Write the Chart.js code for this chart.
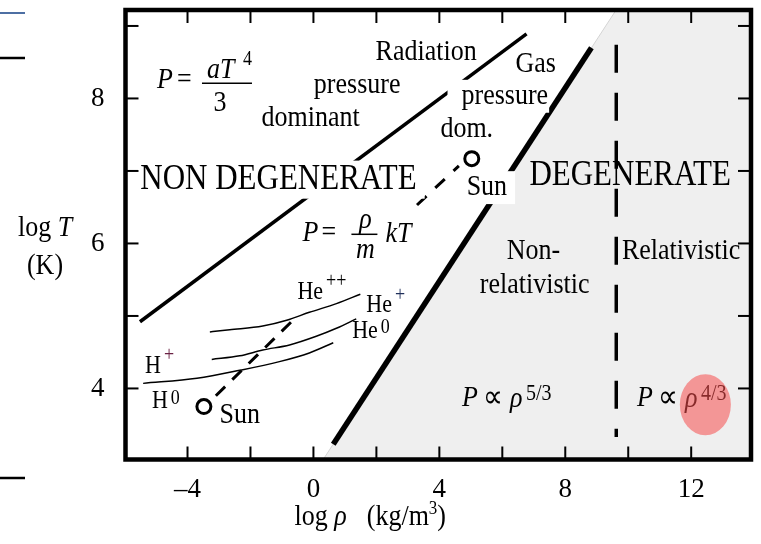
<!DOCTYPE html>
<html>
<head>
<meta charset="utf-8">
<script src="https://cdn.jsdelivr.net/npm/chart.js@4"></script>
<style>
  html, body { margin: 0; padding: 0; background: #fff; }
</style>
</head>
<body>
<canvas id="grafico" width="761" height="544"></canvas>
<script>
// limites dos eixos: log rho (kg/m3) e log T (K)
const rhoMin = -5.97, rhoMax = 13.9;
const tMin = 3.02, tMax = 9.22;

// regiao degenerada (cinza): borda da fronteira e canto superior direito
const cinzaRho = [-0.5, 10.2, 16];
const cinzaT   = [2.48, 9.61, 9.61];

// linha grossa degenerado / nao degenerado
const degenRho = [0.63, 8.83];
const degenT   = [3.23, 8.70];

// linha radiacao / gas
const radRho = [-5.51, 6.77];
const radT   = [4.92, 8.89];

// limite relativistico (tracejado vertical)
const relRho = [9.62, 9.62];
const relT   = [8.74, 3.33];

// caminho do Sol, dois trechos visiveis
const solRho1 = [-3.10, -0.51];
const solT1   = [3.90, 5.00];
const solRho2 = [3.29, 4.62];
const solT2   = [6.53, 7.07];

// superficie e centro do Sol
const solRho = [-3.48, 5.03];
const solT   = [3.75, 7.17];

// curvas de ionizacao
const hRho   = [-5.41, -3.70, -2.34, -1.08, -0.13, 0.63];
const hT     = [4.07, 4.14, 4.25, 4.37, 4.49, 4.63];
const he1Rho = [-3.23, -2.34, -1.61, -0.76, 0.09, 0.73, 1.36];
const he1T   = [4.40, 4.45, 4.53, 4.60, 4.72, 4.83, 4.96];
const he2Rho = [-3.29, -2.66, -1.61, -0.85, -0.13, 0.73, 1.49];
const he2T   = [4.78, 4.81, 4.86, 4.94, 5.05, 5.17, 5.30];

// textos simples (posicao em unidades dos eixos)
const rotulos = [
  { t: 'Radiation', x: 3.58, y: 8.64 },
  { t: 'pressure', x: 1.39, y: 8.18 },
  { t: 'dominant', x: -0.09, y: 7.73 },
  { t: 'Gas', x: 7.06, y: 8.48 },
  { t: 'pressure', x: 6.08, y: 8.03, fundo: true, folgaEsq: 14, folgaDir: 1 },
  { t: 'dom.', x: 4.87, y: 7.58 },
  { t: 'NON DEGENERATE', x: -1.11, y: 6.88, tam: 31, fundo: true },
  { t: 'DEGENERATE', x: 10.06, y: 6.94, tam: 31 },
  { t: 'Sun', x: 5.51, y: 6.77, fundo: true },
  { t: 'Sun', x: -2.34, y: 3.63 },
  { t: 'Non-', x: 6.99, y: 5.89 },
  { t: 'relativistic', x: 7.03, y: 5.42 },
  { t: 'Relativistic', x: 11.68, y: 5.89 }
];

const SERIF = '"Liberation Serif", "Times New Roman", serif';
const ESTICA = 1.15;

function pares(xs, ys) {
  return xs.map((x, i) => ({ x: x, y: ys[i] }));
}

function escreve(ctx, t, x, y, tam, estilo, alinh, cor) {
  ctx.save();
  ctx.font = (estilo || '') + ' ' + tam + 'px ' + SERIF;
  ctx.textAlign = alinh || 'center';
  ctx.textBaseline = 'middle';
  ctx.fillStyle = cor || '#000';
  const w = ctx.measureText(t).width;
  ctx.translate(x, y);
  ctx.scale(1, ESTICA);
  ctx.fillText(t, 0, 0);
  ctx.restore();
  return w;
}

function traco(ctx, x1, y1, x2, y2, lw, cor) {
  ctx.save();
  ctx.strokeStyle = cor || '#000';
  ctx.lineWidth = lw;
  ctx.beginPath();
  ctx.moveTo(x1, y1);
  ctx.lineTo(x2, y2);
  ctx.stroke();
  ctx.restore();
}

const desenhos = {
  id: 'desenhos',
  afterDatasetsDraw(chart) {
    const ctx = chart.ctx;
    const sx = chart.scales.x, sy = chart.scales.y;
    const X = v => sx.getPixelForValue(v);
    const Y = v => sy.getPixelForValue(v);

    // rotulos simples
    rotulos.forEach(r => {
      const tam = r.tam || 26;
      const px = X(r.x), py = Y(r.y);
      if (r.fundo) {
        ctx.font = tam + 'px ' + SERIF;
        const w = ctx.measureText(r.t).width;
        const h = tam * ESTICA * 0.9;
        const esq = r.folgaEsq || 5;
        const dir = r.folgaDir !== undefined ? r.folgaDir : 8;
        ctx.fillStyle = '#fff';
        ctx.fillRect(px - w / 2 - esq, py - h / 2 - 3, w + esq + dir, h + 6);
      }
      escreve(ctx, r.t, px, py, tam);
    });

    // P = aT^4 / 3
    let ax = X(-4.97), ay = Y(8.25);
    escreve(ctx, 'P', ax, ay, 26, 'italic', 'left');
    escreve(ctx, '=', ax + 20, ay, 26, '', 'left');
    traco(ctx, ax + 45, ay + 3, ax + 95, ay + 3, 1.5);
    escreve(ctx, 'aT', ax + 50, ay - 10, 26, 'italic', 'left');
    escreve(ctx, '4', ax + 86, ay - 21, 18, '', 'left');
    escreve(ctx, '3', ax + 63, ay + 23, 26, '', 'center');

    // P = rho/m kT
    ax = X(-0.35); ay = Y(6.14);
    escreve(ctx, 'P', ax, ay, 26, 'italic', 'left');
    escreve(ctx, '=', ax + 19, ay, 26, '', 'left');
    traco(ctx, ax + 49, ay + 1, ax + 75, ay + 1, 1.5);
    escreve(ctx, '\u03C1', ax + 63, ay - 13, 26, 'italic', 'center');
    escreve(ctx, 'm', ax + 63, ay + 17, 26, 'italic', 'center');
    escreve(ctx, 'kT', ax + 83, ay + 1, 26, 'italic', 'left');

    // P ~ rho^(5/3) e P ~ rho^(4/3)
    [[4.72, '5/3'], [10.28, '4/3']].forEach(p => {
      const bx = X(p[0]), by = Y(3.86);
      escreve(ctx, 'P', bx, by, 26, 'italic', 'left');
      escreve(ctx, '\u221D', bx + 21, by, 28, '', 'left');
      escreve(ctx, '\u03C1', bx + 48, by + 1, 26, 'italic', 'left');
      escreve(ctx, p[1], bx + 64, by - 5, 20, '', 'left');
    });

    // ions
    const ion = (base, sup, x, y, dy, corSup) => {
      const px = X(x), py = Y(y);
      const w = escreve(ctx, base, px, py, 22, '', 'left');
      escreve(ctx, sup, px + w + 3, py + dy, 18, '', 'left', corSup);
    };
    ion('He', '++', -0.51, 5.33, -10);
    ion('He', '+', 1.68, 5.15, -10, '#1f2f5a');
    ion('He', '0', 1.23, 4.79, -4);
    ion('H', '+', -5.35, 4.31, -10, '#6a2244');
    ion('H', '0', -5.13, 3.82, -3);

    // destaque vermelho
    ctx.save();
    ctx.fillStyle = 'rgba(246, 77, 77, 0.55)';
    ctx.beginPath();
    ctx.ellipse(X(12.45), Y(3.775), 25.5, 30.5, 0, 0, Math.PI * 2);
    ctx.fill();
    ctx.restore();

    // moldura e marcas internas
    const a = chart.chartArea;
    ctx.save();
    ctx.strokeStyle = '#000';
    ctx.lineWidth = 4.5;
    ctx.strokeRect(a.left, a.top, a.right - a.left, a.bottom - a.top);
    ctx.restore();
    sx.ticks.forEach(t => {
      const p = X(t.value);
      traco(ctx, p, a.bottom, p, a.bottom - 13, 2);
      traco(ctx, p, a.top, p, a.top + 13, 2);
    });
    sy.ticks.forEach(t => {
      const p = Y(t.value);
      traco(ctx, a.left, p, a.left + 13, p, 2);
      traco(ctx, a.right, p, a.right - 13, p, 2);
    });

    // titulos dos eixos
    const w1 = escreve(ctx, 'log ', 18, Y(6.21), 26, '', 'left');
    escreve(ctx, 'T', 18 + w1, Y(6.21), 26, 'italic', 'left');
    escreve(ctx, '(K)', 45, Y(5.69), 26, '', 'center');
    let tx = X(-0.6);
    const ty = a.bottom + 58;
    tx += escreve(ctx, 'log ', tx, ty, 26, '', 'left');
    tx += escreve(ctx, '\u03C1', tx, ty, 26, 'italic', 'left');
    tx += 20;
    tx += escreve(ctx, '(kg/m', tx, ty, 26, '', 'left');
    tx += escreve(ctx, '3', tx, ty - 9, 17, '', 'left');
    escreve(ctx, ')', tx, ty, 26, '', 'left');

    // marcas soltas na borda esquerda
    traco(ctx, 0, 13, 25, 13, 2, '#4d6fa3');
    traco(ctx, 0, 58, 25, 58, 2.5);
    traco(ctx, 0, 478, 25, 478, 2.5);
  }
};

const linha = (xs, ys, extra) => Object.assign({
  data: pares(xs, ys),
  showLine: true,
  borderColor: '#000',
  pointRadius: 0,
  fill: false
}, extra);

const grafico = new Chart(document.getElementById('grafico'), {
  type: 'scatter',
  data: {
    datasets: [
      linha(solRho, solT, { showLine: false, pointRadius: 7, pointBorderWidth: 3,
        pointBorderColor: '#000', pointBackgroundColor: '#fff', order: 0 }),
      linha(degenRho, degenT, { borderWidth: 5.5, order: 1 }),
      linha(radRho, radT, { borderWidth: 3.5, order: 1 }),
      linha(relRho, relT, { borderWidth: 3.5, borderDash: [28, 20], order: 1 }),
      linha(solRho1, solT1, { borderWidth: 3, borderDash: [13, 10], order: 2 }),
      linha(solRho2, solT2, { borderWidth: 3, borderDash: [13, 12], order: 2 }),
      linha(hRho, hT, { borderWidth: 1.5, cubicInterpolationMode: 'monotone', order: 3 }),
      linha(he1Rho, he1T, { borderWidth: 1.5, cubicInterpolationMode: 'monotone', order: 3 }),
      linha(he2Rho, he2T, { borderWidth: 1.5, cubicInterpolationMode: 'monotone', order: 3 }),
      linha(cinzaRho, cinzaT, { borderWidth: 1, borderColor: '#d4d4d4',
        backgroundColor: '#efefef', fill: 'start', order: 10 })
    ]
  },
  options: {
    responsive: false,
    animation: false,
    layout: { padding: { left: 0, top: 6, right: 8, bottom: 0 } },
    plugins: { legend: { display: false }, tooltip: { enabled: false } },
    scales: {
      x: {
        type: 'linear', min: rhoMin, max: rhoMax,
        grid: { display: false, drawTicks: false },
        border: { display: false },
        ticks: {
          stepSize: 2, includeBounds: false, autoSkip: false, maxRotation: 0,
          padding: 14, color: '#000', font: { family: SERIF, size: 27 },
          callback: v => v % 4 === 0 ? (v < 0 ? '\u2013' + (-v) : '' + v) : ''
        },
        afterFit: s => { s.height = 84.5; s.paddingLeft = 0; s.paddingRight = 0; }
      },
      y: {
        type: 'linear', min: tMin, max: tMax,
        grid: { display: false, drawTicks: false },
        border: { display: false },
        ticks: {
          stepSize: 1, includeBounds: false, autoSkip: false,
          padding: 21, color: '#000', font: { family: SERIF, size: 27 },
          callback: v => (v % 2 === 0 && v >= 4 && v <= 8) ? '' + v : ''
        },
        afterFit: s => { s.width = 125.5; s.paddingTop = 0; s.paddingBottom = 0; }
      }
    }
  },
  plugins: [desenhos]
});
</script>
</body>
</html>
